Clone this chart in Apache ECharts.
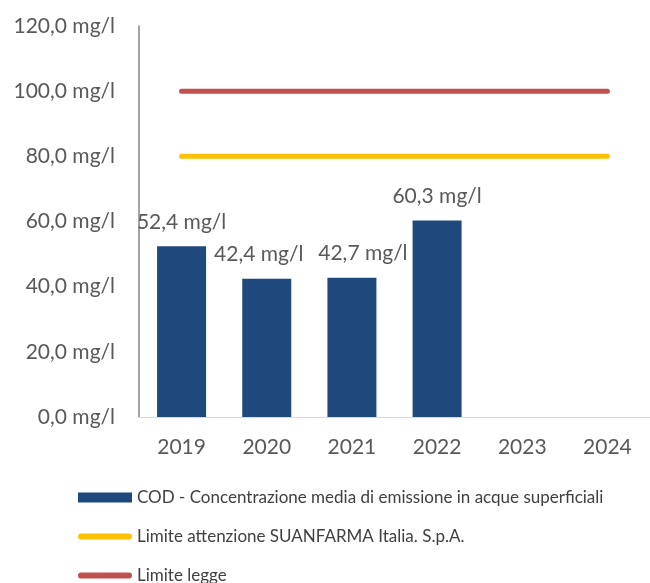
<!DOCTYPE html>
<html>
<head>
<meta charset="utf-8">
<script src="https://cdn.jsdelivr.net/npm/echarts@6/dist/echarts.min.js"></script>
<style>
  html, body { margin: 0; padding: 0; background: #fff; }
  #chart { width: 650px; height: 583px; }
</style>
</head>
<body>
<div id="chart"></div>
<script>
// dati
const years = ["2019", "2020", "2021", "2022", "2023", "2024"];
const codValues = [52.4, 42.4, 42.7, 60.3, null, null];
const limiteAttenzione = [80, 80, 80, 80, 80, 80];
const limiteLegge = [100, 100, 100, 100, 100, 100];
const yTicks = [0, 20, 40, 60, 80, 100, 120];

const seriesNames = [
  "COD - Concentrazione media di emissione in acque superficiali",
  "Limite attenzione SUANFARMA Italia. S.p.A.",
  "Limite legge"
];

const FONT = "Lato";
// icona legenda: linea spessa con estremi arrotondati
const LINE_ICON = "path://M3,0 H51 A3,3 0 0 1 51,6 H3 A3,3 0 0 1 3,0 Z";
// spostamento orizzontale delle etichette (come in Excel, per non sovrapporle)
const labelShift = [0, -8, 11, 0, 0, 0];

// 52.4 -> "52,4 mg/l"
function fmt(v) {
  return v.toFixed(1).replace(".", ",") + " mg/l";
}

const barData = codValues.map((v, i) => ({
  value: v,
  label: { offset: [labelShift[i], 0] }
}));

const chart = echarts.init(document.getElementById("chart"));

chart.setOption({
  animation: false,
  textStyle: { fontFamily: FONT },
  grid: { left: 139, width: 517, top: 26, bottom: 166 },
  xAxis: {
    type: "category",
    data: years,
    axisLine: { lineStyle: { color: "#d9d9d9", width: 1 } },
    axisTick: { show: false },
    axisLabel: { color: "#595959", fontSize: 21, margin: 20, fontFamily: FONT }
  },
  yAxis: {
    type: "value",
    min: yTicks[0],
    max: yTicks[yTicks.length - 1],
    interval: 20,
    splitLine: { show: false },
    axisTick: { show: false },
    axisLine: { show: true, lineStyle: { color: "#868686", width: 1.5 } },
    axisLabel: {
      color: "#595959",
      fontSize: 21,
      margin: 24,
      fontFamily: FONT,
      formatter: fmt
    }
  },
  legend: {
    orient: "vertical",
    left: 78,
    top: 489,
    height: 120,
    padding: 0,
    itemWidth: 54,
    itemHeight: 10,
    itemGap: 22,
    textStyle: { color: "#404040", fontSize: 17, fontFamily: FONT },
    data: [
      { name: seriesNames[0], icon: "rect" },
      { name: seriesNames[1], icon: LINE_ICON },
      { name: seriesNames[2], icon: LINE_ICON }
    ]
  },
  series: [
    {
      name: seriesNames[0],
      type: "bar",
      data: barData,
      barWidth: 49,
      itemStyle: { color: "#1f497d" },
      label: {
        show: true,
        position: "top",
        distance: 14,
        color: "#595959",
        fontSize: 21,
        fontFamily: FONT,
        formatter: p => fmt(p.value)
      }
    },
    {
      name: seriesNames[1],
      type: "line",
      data: limiteAttenzione,
      symbol: "none",
      lineStyle: { color: "#ffc000", width: 5, cap: "round" },
      itemStyle: { color: "#ffc000" }
    },
    {
      name: seriesNames[2],
      type: "line",
      data: limiteLegge,
      symbol: "none",
      lineStyle: { color: "#c0504d", width: 5, cap: "round" },
      itemStyle: { color: "#c0504d" }
    }
  ]
});
</script>
</body>
</html>
